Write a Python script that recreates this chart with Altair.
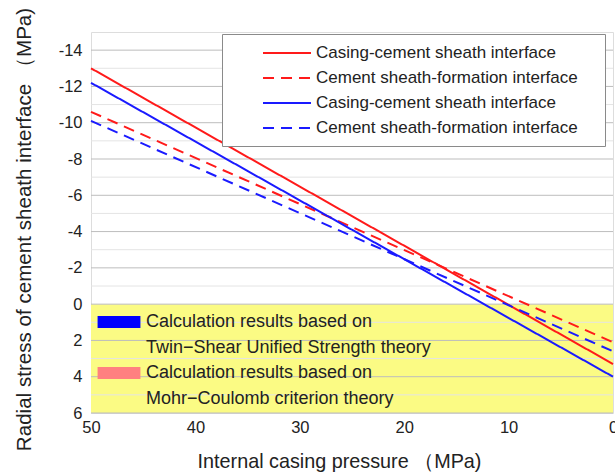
import altair as alt
import pandas as pd

# ---- data ----
pressure = [50, 0]                      # internal casing pressure (MPa)
mc_casing = [-13.0, 3.3]                # Mohr-Coulomb, casing-cement sheath interface (red solid)
mc_formation = [-10.6, 2.1]             # Mohr-Coulomb, cement sheath-formation interface (red dashed)
ts_casing = [-12.2, 4.0]                # Twin-shear, casing-cement sheath interface (blue solid)
ts_formation = [-10.1, 2.6]             # Twin-shear, cement sheath-formation interface (blue dashed)

series_keys = ["mc_c", "mc_f", "ts_c", "ts_f"]
series_labels = ["Casing-cement sheath interface", "Cement sheath-formation interface",
                 "Casing-cement sheath interface", "Cement sheath-formation interface"]
series_colors = ["#ff1a1a", "#ff1a1a", "#1a1aff", "#1a1aff"]
series_dash = [[1, 0], [11, 7], [1, 0], [11, 7]]

zone_y = [0, 6]                         # yellow tensile zone
theory_keys = ["t1", "t2", "m1", "m2"]
theory_labels = ["Calculation results based on", "Twin\u2212Shear Unified Strength theory",
                 "Calculation results based on", "Mohr\u2212Coulomb criterion theory"]
theory_colors = ["#0000ff", "rgba(0,0,0,0)", "#ff8080", "rgba(0,0,0,0)"]

x_ticks = [0, 10, 20, 30, 40, 50]
y_ticks = [-14, -12, -10, -8, -6, -4, -2, 0, 2, 4, 6]
y_minor = [-13, -11, -9, -7, -5, -3, -1, 1, 3, 5]

FONT = "Liberation Sans"

# ---- tables ----
rows = []
for key, vals in zip(series_keys, [mc_casing, mc_formation, ts_casing, ts_formation]):
    for p, v in zip(pressure, vals):
        rows.append({"p": p, "s": v, "series": key})
lines_df = pd.DataFrame(rows)

band_df = pd.DataFrame({"x1": [max(pressure)], "x2": [min(pressure)],
                        "y1": [zone_y[0]], "y2": [zone_y[1]]})
major_df = pd.DataFrame({"g": y_ticks})
minor_df = pd.DataFrame({"g": y_minor})
dummy_df = pd.DataFrame({"p": [None] * 4, "s": [None] * 4, "theory": theory_keys})

def label_expr(keys, labels):
    expr = "''"
    for k, l in zip(reversed(keys), reversed(labels)):
        expr = f"datum.value == '{k}' ? '{l}' : ({expr})"
    return expr

xscale = alt.Scale(domain=[0, 50], reverse=True, nice=False)
yscale = alt.Scale(domain=[-15, 6], reverse=True, nice=False)

xaxis = alt.Axis(values=x_ticks, grid=False, ticks=False, domain=False,
                 labelFont=FONT, labelFontSize=16.5, labelColor="#222", labelPadding=6,
                 title="Internal casing pressure \uff08MPa)", titleFont=FONT,
                 titleFontSize=19.8, titleFontWeight="normal", titleColor="#222",
                 titlePadding=16, titleX=248, titleAlign="center",
                 labelFlush=False, labelOverlap=False)
yaxis = alt.Axis(values=y_ticks, ticks=False, domain=False, grid=False,
                 labelExpr="'' + datum.value", labelOverlap=False,
                 labelFont=FONT, labelFontSize=16.5, labelColor="#222", labelPadding=9,
                 title="Radial stress of cement sheath interface \uff08MPa)", titleFont=FONT,
                 titleFontSize=20.6, titleFontWeight="normal", titleColor="#222",
                 titlePadding=24, titleY=197, titleAlign="center")

band = alt.Chart(band_df).mark_rect(color="#fbfb84").encode(
    x=alt.X("x1:Q", scale=xscale, axis=xaxis),
    x2="x2:Q",
    y=alt.Y("y1:Q", scale=yscale, axis=yaxis),
    y2="y2:Q",
)

minor_grid = alt.Chart(minor_df).mark_rule(color="#e4e4e4", strokeWidth=1).encode(
    y=alt.Y("g:Q", scale=yscale, axis=yaxis))
major_grid = alt.Chart(major_df).mark_rule(color="#bdbdbd", strokeWidth=1).encode(
    y=alt.Y("g:Q", scale=yscale, axis=yaxis))

lines = alt.Chart(lines_df).mark_line(strokeWidth=2).encode(
    x=alt.X("p:Q", scale=xscale, axis=xaxis),
    y=alt.Y("s:Q", scale=yscale, axis=yaxis),
    color=alt.Color("series:N",
                    scale=alt.Scale(domain=series_keys, range=series_colors),
                    legend=alt.Legend(orient="none", legendX=131, legendY=2,
                                      title="I", titleOrient="right", titlePadding=14,
                                      titleFontSize=10, titleColor="#ffffff",
                                      titleFont=FONT,
                                      symbolType="M-3,0H3", symbolSize=256,
                                      symbolStrokeWidth=2, symbolOffset=46, labelOffset=20,
                                      padding=10, rowPadding=8,
                                      labelFont=FONT, labelFontSize=17, labelColor="#222",
                                      labelLimit=500,
                                      labelExpr=label_expr(series_keys, series_labels),
                                      fillColor="white", strokeColor="#8a8a8a")),
    strokeDash=alt.StrokeDash("series:N",
                              scale=alt.Scale(domain=series_keys, range=series_dash),
                              legend=None),
)

theory = alt.Chart(dummy_df).mark_point(filled=True, opacity=1).encode(
    x=alt.X("p:Q", scale=xscale, axis=xaxis),
    y=alt.Y("s:Q", scale=yscale, axis=yaxis),
    fill=alt.Fill("theory:N",
                  scale=alt.Scale(domain=theory_keys, range=theory_colors),
                  legend=alt.Legend(orient="none", legendX=4, legendY=281, title=None,
                                    symbolType="M-3,-0.84H3V0.84H-3Z", symbolSize=204,
                                    symbolStrokeWidth=0, symbolOffset=15, labelOffset=18,
                                    padding=0, rowPadding=7.5,
                                    labelFont=FONT, labelFontSize=18, labelColor="#222",
                                    labelLimit=500,
                                    labelExpr=label_expr(theory_keys, theory_labels))),
)

chart = alt.layer(band, minor_grid, major_grid, lines, theory).properties(
    width=522, height=381,
    autosize=alt.AutoSizeParams(type="none"),
    padding={"left": 91, "top": 32, "right": 2, "bottom": 62},
).configure_view(stroke="#333", strokeWidth=2).configure(background="white"
).configure_axis(labelOverlap=False)

chart.save("out.html", embed_options={"renderer": "svg", "actions": False})
